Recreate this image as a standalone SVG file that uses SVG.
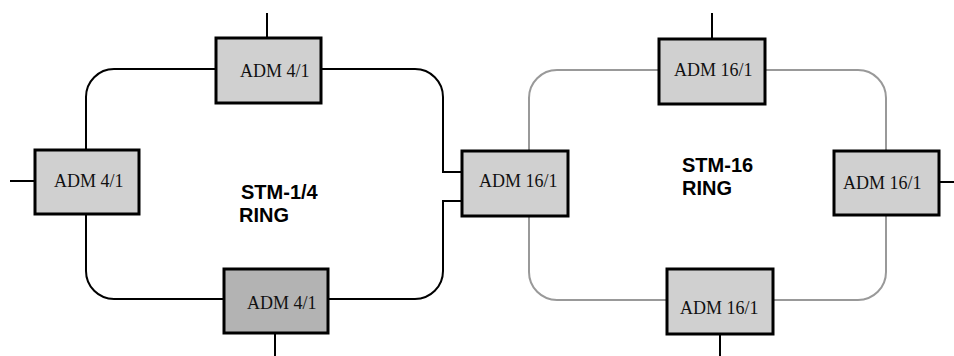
<svg xmlns="http://www.w3.org/2000/svg" width="954" height="356" viewBox="0 0 954 356">
<style>
.box{fill:#d0d0d0;stroke:#000;stroke-width:3}
.dark{fill:#b3b3b3}
.lbl{font-family:"Liberation Serif","Times New Roman",serif;font-size:18px;fill:#111}
.ring{font-family:"Liberation Sans",Arial,sans-serif;font-size:20px;font-weight:bold;fill:#000}
.blk{fill:none;stroke:#000;stroke-width:2}
.gry{fill:none;stroke:#999;stroke-width:2}
</style>
<g id="connectors">
<path class="blk" d="M321,69 H415 A28,28 0 0 1 443,97 V172 H462 M462,201 H443 V271 A28,28 0 0 1 415,299 H328 M224,299 H114 A28,28 0 0 1 86,271 V214 M86,150 V97 A28,28 0 0 1 114,69 H216"/>
<path class="gry" d="M659,70 H557 A28,28 0 0 0 529,98 V151 M529,216 V272 A28,28 0 0 0 557,300 H667 M773,300 H858 A28,28 0 0 0 886,272 V215 M886,151 V98 A28,28 0 0 0 858,70 H765"/>
<path class="blk" d="M267,13 V38 M10,181 H34 M275,333 V356 M712,13 V39 M939,182 H954 M720,334 V356"/>
</g>
<g id="adm-top-left"><rect class="box" x="216" y="38" width="105" height="65"/><text class="lbl" x="240" y="77">ADM 4/1</text></g>
<g id="adm-left"><rect class="box" x="35" y="150" width="104" height="64"/><text class="lbl" x="54" y="187">ADM 4/1</text></g>
<g id="adm-bottom-left"><rect class="box dark" x="224" y="269" width="104" height="64"/><text class="lbl" x="247" y="309">ADM 4/1</text></g>
<g id="adm-middle"><rect class="box" x="462" y="151" width="106" height="65"/><text class="lbl" x="479" y="187">ADM 16/1</text></g>
<g id="adm-top-right"><rect class="box" x="659" y="39" width="106" height="65"/><text class="lbl" x="674" y="76">ADM 16/1</text></g>
<g id="adm-right"><rect class="box" x="834" y="151" width="105" height="64"/><text class="lbl" x="843" y="189">ADM 16/1</text></g>
<g id="adm-bottom-right"><rect class="box" x="667" y="269" width="106" height="65"/><text class="lbl" x="680" y="314">ADM 16/1</text></g>
<g id="label-left"><text class="ring" x="241" y="199">STM-1/4</text><text class="ring" x="239" y="222">RING</text></g>
<g id="label-right"><text class="ring" x="682" y="172">STM-16</text><text class="ring" x="682" y="195">RING</text></g>
</svg>
